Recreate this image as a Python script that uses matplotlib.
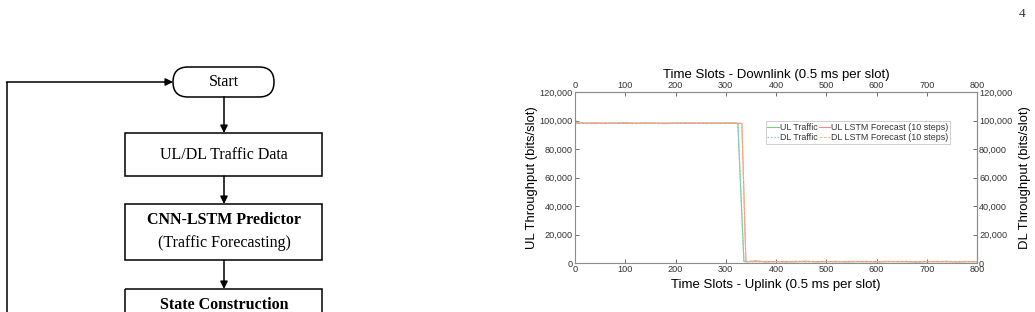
import matplotlib
matplotlib.use("Agg")
import matplotlib.pyplot as plt
from matplotlib.patches import Rectangle, FancyBboxPatch
from matplotlib.ticker import FuncFormatter

# Traffic data (slot index, bits/slot)
traffic_slots = [0, 20, 40, 60, 80, 100, 120, 140, 160, 180, 200, 220, 240, 260, 280, 300, 320, 324,
                 336, 340, 360, 380, 400, 420, 440, 460, 480, 500, 520, 540, 560, 580, 600, 620, 640,
                 660, 680, 700, 720, 740, 760, 780, 800]
ul_traffic = [98400, 98100, 98300, 97900, 98200, 98500, 98000, 98300, 98100, 97800, 98200, 98400, 98000,
              98300, 98100, 98400, 98200, 98000, 1200, 900, 1500, 800, 1100, 700, 1000, 1300, 800, 900,
              1200, 700, 1000, 1100, 800, 1200, 900, 1000, 700, 1100, 900, 1200, 800, 1000, 900]
dl_traffic = [99800, 98200, 97900, 98400, 98100, 98000, 98300, 97900, 98200, 98400, 98000, 98100, 98300,
              97900, 98200, 98000, 98300, 98100, 900, 1100, 800, 1200, 900, 1000, 1300, 700, 1000, 1100,
              800, 1200, 900, 700, 1100, 900, 1000, 1200, 800, 900, 1100, 700, 1000, 900, 1100]

forecast_slots = [0, 20, 40, 60, 80, 100, 120, 140, 160, 180, 200, 220, 240, 260, 280, 300, 320, 332,
                  340, 360, 380, 400, 420, 440, 460, 480, 500, 520, 540, 560, 580, 600, 620, 640, 660,
                  680, 700, 720, 740, 760, 780, 800]
ul_forecast = [98000, 98100, 98000, 98200, 98000, 98100, 98000, 98200, 98100, 98000, 98100, 98000, 98200,
               98100, 98000, 98100, 98000, 98000, 1000, 1100, 900, 1000, 1100, 900, 1000, 1000, 1100, 900,
               1000, 1100, 1000, 900, 1000, 1100, 1000, 900, 1000, 1100, 1000, 900, 1000, 1000]
dl_forecast = [98100, 98000, 98200, 98000, 98100, 98000, 98100, 98000, 98000, 98200, 98000, 98100, 98000,
               98100, 98200, 98000, 98100, 98000, 900, 1000, 1100, 1000, 900, 1000, 1100, 1000, 900, 1000,
               1100, 1000, 900, 1000, 1000, 1100, 900, 1000, 1100, 900, 1000, 1000, 1100, 1000]

plt.rcParams["font.family"] = "Liberation Sans"

fig = plt.figure(figsize=(10.35, 3.12), dpi=100)

# ---- Flussdiagramm links (Seitenausschnitt) ----
bg = fig.add_axes([0, 0, 1, 1])
bg.set_xlim(0, 1035)
bg.set_ylim(312, 0)
bg.axis("off")

serif = "Liberation Serif"
lw = 1.1
bg.add_patch(FancyBboxPatch((173, 67), 101, 30, boxstyle="round,pad=0,rounding_size=15",
                            fill=False, lw=lw, ec="black"))
bg.text(224, 82, "Start", family=serif, fontsize=11.5, ha="center", va="center")

bg.add_patch(Rectangle((125, 133), 197, 43, fill=False, lw=lw, ec="black"))
bg.text(224, 155, "UL/DL Traffic Data", family=serif, fontsize=11.5, ha="center", va="center")

bg.add_patch(Rectangle((125, 204), 197, 56, fill=False, lw=lw, ec="black"))
bg.text(224, 220, "CNN-LSTM Predictor", family=serif, fontsize=11.5, weight="bold",
        ha="center", va="center")
bg.text(224, 243, "(Traffic Forecasting)", family=serif, fontsize=11.5, ha="center", va="center")

bg.add_patch(Rectangle((125, 289), 197, 60, fill=False, lw=lw, ec="black", clip_on=True))
bg.text(224, 305, "State Construction", family=serif, fontsize=11.5, weight="bold",
        ha="center", va="center")

pfeil = dict(arrowstyle="-|>", lw=lw, color="black", mutation_scale=11, shrinkA=0, shrinkB=0)
for y0, y1 in [(97, 133), (176, 204), (260, 289)]:
    bg.annotate("", xy=(224, y1), xytext=(224, y0), arrowprops=pfeil)
bg.plot([7, 7], [330, 82], color="black", lw=lw, solid_capstyle="butt")
bg.annotate("", xy=(173, 82), xytext=(6.5, 82), arrowprops=pfeil)

bg.text(1022, 14, "4", family=serif, fontsize=9.5, ha="center", va="center", color="#333333")

# ---- Diagramm rechts ----
ax = fig.add_axes([0.5556, 0.157, 0.3884, 0.548])
ax.plot(traffic_slots, ul_traffic, color="#7ccf7c", lw=0.8, label="UL Traffic")
ax.plot(traffic_slots, dl_traffic, color="#8cc4e6", lw=0.8, ls=(0, (1.5, 1.5)), label="DL Traffic")
ax.plot(forecast_slots, ul_forecast, color="#f08c8c", lw=0.8, label="UL LSTM Forecast (10 steps)")
ax.plot(forecast_slots, dl_forecast, color="#fdb57a", lw=0.8, ls=(0, (2.5, 1.5)),
        label="DL LSTM Forecast (10 steps)")

ax.set_xlim(0, 800)
ax.set_ylim(0, 120000)
tausend = FuncFormatter(lambda v, p: f"{int(v):,}")
ax.yaxis.set_major_formatter(tausend)

grau = "#8c8c8c"
for s in ax.spines.values():
    s.set_color(grau)
    s.set_linewidth(0.8)

tick_kw = dict(direction="in", length=3, width=0.6, color="#555555", labelsize=6.6,
               labelcolor="#333333", pad=1.5)
ax.tick_params(**tick_kw)

oben = ax.secondary_xaxis("top")
oben.tick_params(**tick_kw)
oben.spines["top"].set_color(grau)
rechts = ax.secondary_yaxis("right")
rechts.tick_params(**tick_kw)
rechts.yaxis.set_major_formatter(tausend)
rechts.spines["right"].set_color(grau)

ax.set_xlabel("Time Slots - Uplink (0.5 ms per slot)", fontsize=9.5, labelpad=3.5)
oben.set_xlabel("Time Slots - Downlink (0.5 ms per slot)", fontsize=9.5, labelpad=2)
ax.set_ylabel("UL Throughput (bits/slot)", fontsize=9.4, labelpad=1)
rechts.set_ylabel("DL Throughput (bits/slot)", fontsize=9.4, labelpad=5)

leg = ax.legend(ncol=2, loc="upper left", bbox_to_anchor=(0.474, 0.83), fontsize=6.4,
                handlelength=1.3, handletextpad=0.1, columnspacing=0.15, borderpad=0.2,
                labelspacing=0.1, borderaxespad=0, fancybox=False, framealpha=1)
leg.get_frame().set_edgecolor("#c8c8c8")
leg.get_frame().set_linewidth(0.6)
for t in leg.get_texts():
    t.set_color("#333333")

fig.savefig("out.png", dpi=100)
